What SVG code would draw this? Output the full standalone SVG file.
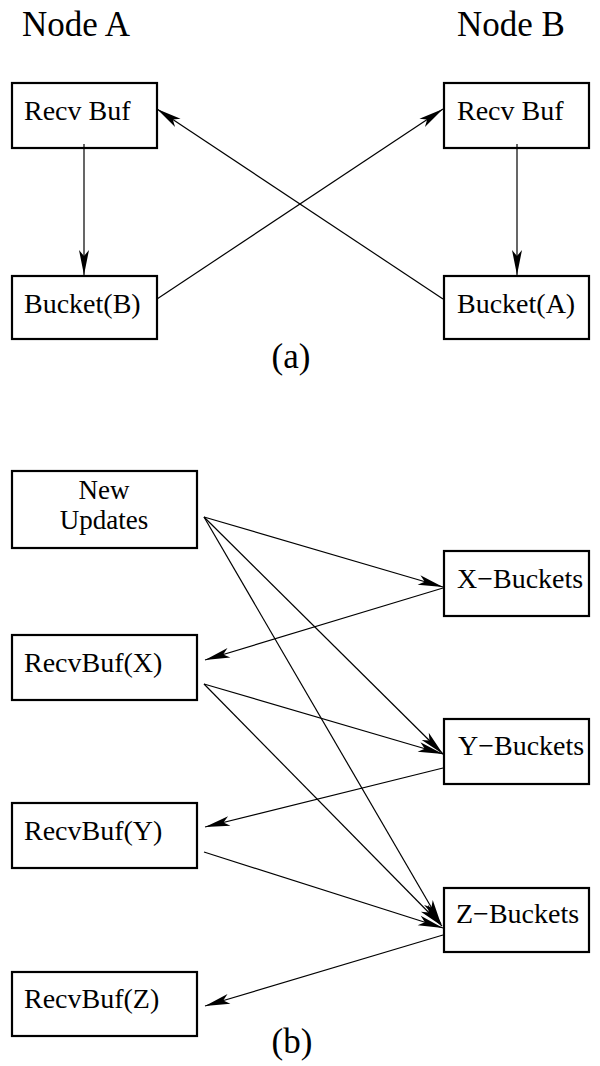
<svg xmlns="http://www.w3.org/2000/svg" width="600" height="1066" viewBox="0 0 600 1066">
  <style>
    .box { fill: #fff; stroke: #000; stroke-width: 2.2; }
    .lbl { font-family: "Liberation Serif", "Times New Roman", serif; font-size: 28px; fill: #000; }
    .lbl2 { font-family: "Liberation Serif", "Times New Roman", serif; font-size: 27px; fill: #000; }
    .title { font-family: "Liberation Serif", "Times New Roman", serif; font-size: 35px; fill: #000; }
    .edge { fill: none; stroke: #000; stroke-width: 1.2; marker-end: url(#head); }
  </style>
  <defs>
    <marker id="head" markerUnits="userSpaceOnUse" viewBox="-26 -6 28 12" markerWidth="28" markerHeight="12" refX="0" refY="0" orient="auto">
      <path d="M0,0 L-25,-5 L-19,0 L-25,5 Z" fill="#000"/>
    </marker>
  </defs>
  <rect width="600" height="1066" fill="#fff"/>

  <!-- part (a): two nodes exchanging buckets -->
  <text class="title" x="22" y="36">Node A</text>
  <text class="title" x="457" y="36">Node B</text>

  <g id="a-recv-a">
    <rect class="box" x="12" y="83" width="145" height="65"/>
    <text class="lbl" x="24" y="120">Recv Buf</text>
  </g>
  <g id="a-bucket-b">
    <rect class="box" x="12" y="276" width="145" height="63"/>
    <text class="lbl" x="24" y="313">Bucket(B)</text>
  </g>
  <g id="a-recv-b">
    <rect class="box" x="444" y="83" width="145" height="65"/>
    <text class="lbl" x="457" y="120">Recv Buf</text>
  </g>
  <g id="a-bucket-a">
    <rect class="box" x="444" y="276" width="145" height="63"/>
    <text class="lbl" x="457" y="313">Bucket(A)</text>
  </g>
  <text class="title" x="291" y="368" text-anchor="middle">(a)</text>

  <!-- part (b): per-destination buckets -->
  <g id="b-new-updates">
    <rect class="box" x="12" y="471" width="185" height="77"/>
    <text class="lbl2" x="104" y="499" text-anchor="middle">New</text>
    <text class="lbl2" x="104" y="529" text-anchor="middle">Updates</text>
  </g>
  <g id="b-recv-x">
    <rect class="box" x="12" y="635" width="185" height="65"/>
    <text class="lbl" x="24" y="672">RecvBuf(X)</text>
  </g>
  <g id="b-recv-y">
    <rect class="box" x="12" y="803" width="185" height="65"/>
    <text class="lbl" x="24" y="840">RecvBuf(Y)</text>
  </g>
  <g id="b-recv-z">
    <rect class="box" x="12" y="972" width="185" height="64"/>
    <text class="lbl" x="24" y="1008">RecvBuf(Z)</text>
  </g>
  <g id="b-x-buckets">
    <rect class="box" x="444" y="551" width="145" height="65"/>
    <text class="lbl" x="457" y="588">X−Buckets</text>
  </g>
  <g id="b-y-buckets">
    <rect class="box" x="444" y="719" width="145" height="65"/>
    <text class="lbl" x="458" y="755">Y−Buckets</text>
  </g>
  <g id="b-z-buckets">
    <rect class="box" x="444" y="888" width="145" height="64"/>
    <text class="lbl" x="456" y="923">Z−Buckets</text>
  </g>
  <text class="title" x="292" y="1053" text-anchor="middle">(b)</text>

  <g id="connectors">
    <!-- (a) -->
    <line class="edge" x1="84" y1="144" x2="84" y2="275"/>
    <line class="edge" x1="517" y1="144" x2="517" y2="275"/>
    <line class="edge" x1="157" y1="299" x2="443" y2="109"/>
    <line class="edge" x1="443" y1="299" x2="157" y2="109"/>
    <!-- (b) new updates fan out -->
    <line class="edge" x1="204" y1="517" x2="443" y2="587"/>
    <line class="edge" x1="204" y1="517" x2="443" y2="754"/>
    <line class="edge" x1="204" y1="517" x2="441" y2="924"/>
    <!-- buckets back to receive buffers -->
    <line class="edge" x1="443" y1="588" x2="205" y2="660"/>
    <line class="edge" x1="443" y1="768" x2="205" y2="827"/>
    <line class="edge" x1="443" y1="935" x2="205" y2="1006"/>
    <!-- receive buffers forwarding -->
    <line class="edge" x1="204" y1="684" x2="443" y2="754"/>
    <line class="edge" x1="204" y1="684" x2="442" y2="926"/>
    <line class="edge" x1="204" y1="852" x2="443" y2="928"/>
  </g>
</svg>
